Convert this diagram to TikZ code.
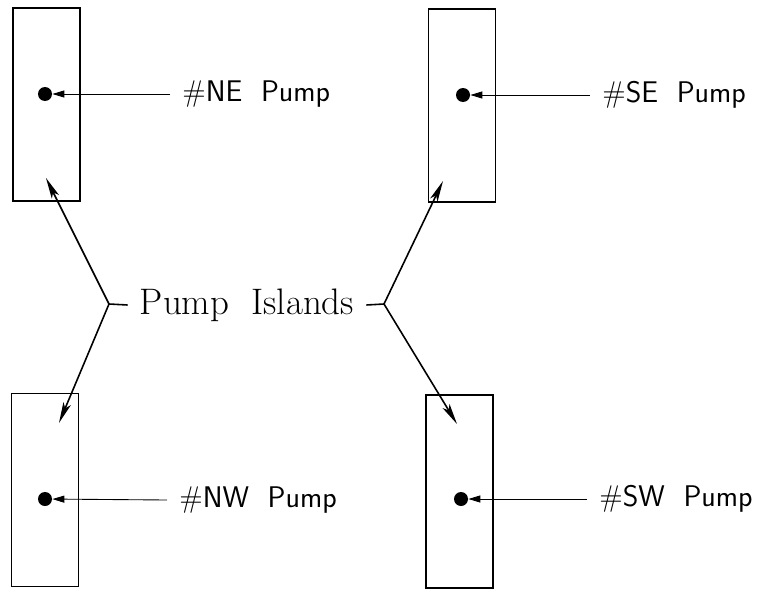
\documentclass[tikz,border=0pt]{standalone}
\usepackage{fontspec}
\usepackage{tikz}
\usetikzlibrary{arrows.meta}

\begin{document}
\begin{tikzpicture}[x=0.02cm, y=-0.02cm,
	isle/.style={draw, line width=1.1pt, minimum width=1.34cm, minimum height=3.86cm, inner sep=0pt},
	pumpdot/.style={circle, fill, inner sep=0pt, minimum size=0.28cm},
	pumplabel/.style={anchor=west, inner xsep=0.24cm, inner ysep=0pt, font=\sffamily\fontsize{17}{20}\selectfont},
	lead/.style={line width=0.5pt, -{Triangle[length=0.24cm, width=0.14cm]}},
	pointer/.style={line width=0.9pt, -{Stealth[length=0.42cm, width=0.16cm, inset=0.1cm]}}]
	\useasboundingbox (0,0) rectangle (761,592);
	\node[isle] (isleNE) at (46.5,104.5) {};
	\node[isle] (isleSE) at (462,105.5) {};
	\node[isle] (isleNW) at (45,490) {};
	\node[isle] (isleSW) at (459.5,491.5) {};
	\node[pumpdot] (dotNE) at (45,94) {};
	\node[pumpdot] (dotSE) at (463,95) {};
	\node[pumpdot] (dotNW) at (45,499) {};
	\node[pumpdot] (dotSW) at (461,499) {};
	\node[pumplabel] (labNE) at (170,94) {\#NE\ \ Pump};
	\node[pumplabel] (labSE) at (590,95) {\#SE\ \ Pump};
	\node[pumplabel] (labNW) at (167,500) {\#NW\ \ Pump};
	\node[pumplabel] (labSW) at (587,499) {\#SW\ \ Pump};
	\draw[lead] (labNE.west) -- (dotNE);
	\draw[lead] (labSE.west) -- (dotSE);
	\draw[lead] (labNW.west) -- (dotNW);
	\draw[lead] (labSW.west) -- (dotSW);
	\node[inner xsep=0.24cm, font=\fontsize{21}{25}\selectfont\addfontfeature{LetterSpace=5}] (islands) at (247,305) {Pump\ \ Islands};
	\coordinate (forkL) at (109,304);
	\coordinate (forkR) at (384,304);
	\coordinate (tipNE) at (46,178);
	\coordinate (tipNW) at (59,423);
	\coordinate (tipSE) at (443,181);
	\coordinate (tipSW) at (457,424);
	\draw[line width=0.9pt] (islands.west) -- (forkL);
	\draw[line width=0.9pt] (islands.east) -- (forkR);
	\draw[pointer] (forkL) -- (tipNE);
	\draw[pointer] (forkL) -- (tipNW);
	\draw[pointer] (forkR) -- (tipSE);
	\draw[pointer] (forkR) -- (tipSW);
\end{tikzpicture}
\end{document}
